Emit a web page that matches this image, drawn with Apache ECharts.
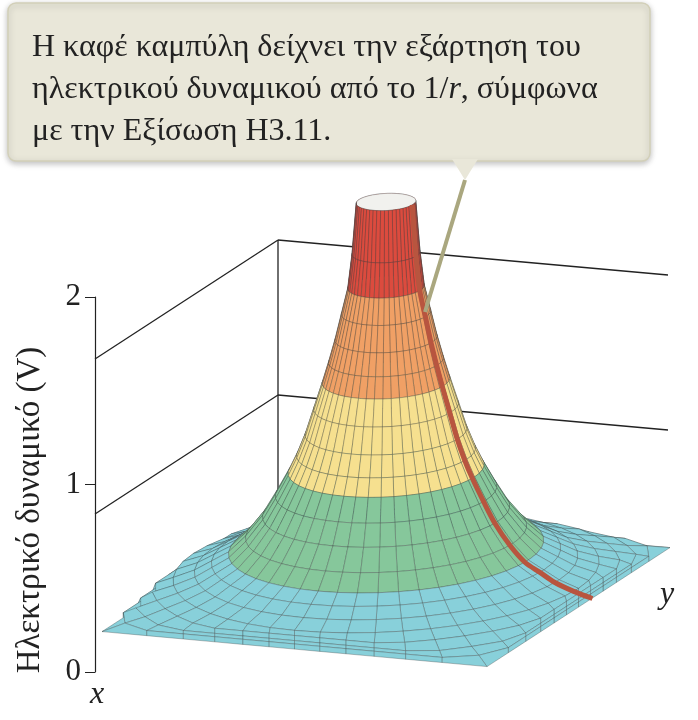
<!DOCTYPE html>
<html><head><meta charset="utf-8">
<script src="https://cdn.jsdelivr.net/npm/echarts@6/dist/echarts.min.js"></script>
<style>html,body{margin:0;padding:0;background:#fff}#c{width:698px;height:720px}</style>
</head><body><div id="c"></div>
<script>
// radial profile (distance from charge, potential in V)
const radii = [0.07, 0.08, 0.09, 0.105, 0.12, 0.135, 0.15, 0.17, 0.19, 0.21, 0.23, 0.26, 0.29, 0.33, 0.37, 0.41, 0.45, 0.5, 0.55, 0.6, 0.65, 0.72];
const potentials = [2.5, 2.2, 2.0, 1.85, 1.7, 1.57, 1.45, 1.3, 1.15, 1.03, 0.93, 0.8, 0.68, 0.56, 0.47, 0.42, 0.37, 0.33, 0.3, 0.27, 0.25, 0.22];
const yTicks = [0, 1, 2];
const bandLimits = [1.95, 1.45, 0.93, 0.45];
const bandColors = ['#dc4b3e', '#f0a065', '#f6e08f', '#86c79b', '#88d0da'];
const curveDir = [0.05, 1];

const chart = echarts.init(document.getElementById('c'));
const B = [285, 550], X = [-183, 119], Y = [385, 35], S = 170;
function proj(a, b, z, s) {
  const u = a + 0.5, v = b + 0.5;
  return [B[0] + u * X[0] + v * Y[0], B[1] + u * X[1] + v * Y[1] - z * (s || S)];
}
function bandColor(v) { for (let i = 0; i < bandLimits.length; i++) if (v >= bandLimits[i]) return bandColors[i]; return bandColors[4]; }
const NA = 48;
function ringPt(r, j) {
  const t = j / NA * Math.PI * 2, c = Math.cos(t), s = Math.sin(t);
  const rr = Math.min(r, 0.5 / Math.max(Math.abs(c), Math.abs(s)));
  return [rr * c, rr * s];
}
const cells = [];
for (let i = 0; i < radii.length - 1; i++) {
  for (let j = 0; j < NA; j++) {
    const p = [ringPt(radii[i], j), ringPt(radii[i], j + 1), ringPt(radii[i + 1], j + 1), ringPt(radii[i + 1], j)];
    const z = [potentials[i], potentials[i], potentials[i + 1], potentials[i + 1]];
    const ca = (p[0][0] + p[2][0]) / 2, cb = (p[0][1] + p[2][1]) / 2;
    cells.push({ pts: p.map((q, k) => proj(q[0], q[1], z[k])), depth: proj(ca, cb, 0)[1], color: bandColor((z[0] + z[2]) / 2) });
  }
}
const capPts = []; for (let j = 0; j < NA; j++) { const q = ringPt(radii[0], j); capPts.push(proj(q[0], q[1], potentials[0])); }
cells.push({ pts: capPts, depth: proj(0, 0, 0)[1] - 0.1, color: '#f1f1ee', cap: true });
cells.sort((p, q) => p.depth - q.depth);
const dl = Math.hypot(curveDir[0], curveDir[1]);
const curve = [];
for (let i = 0; i < radii.length; i++) if (radii[i] <= 0.55) curve.push(proj(curveDir[0] / dl * radii[i], curveDir[1] / dl * radii[i], potentials[i]));

const boxLines = [];
[1, 2].forEach(z => {
  const o = [278, 550 - z * 155];
  boxLines.push([o, [o[0] + X[0], o[1] + X[1]]]);
  boxLines.push([o, [o[0] + 390, o[1] + 35]]);
});
boxLines.push([[278, 550], [278, 240]]);

const serif = '"Liberation Serif","DejaVu Serif",serif';
chart.setOption({
  animation: false,
  grid: [{ left: 95, top: 297, bottom: 48, width: 1 }, { left: 0, top: 0, right: 0, bottom: 0 }],
  xAxis: [{ gridIndex: 0, show: false, min: 0, max: 1 }, { gridIndex: 1, show: false, min: 0, max: 698 }],
  yAxis: [{ gridIndex: 0, min: 0, max: 2, interval: 1, axisLine: { show: true, lineStyle: { color: '#222', width: 1.2 } },
      axisTick: { show: true, length: 10, lineStyle: { color: '#222' } }, splitLine: { show: false },
      axisLabel: { fontFamily: serif, fontSize: 31, color: '#222', margin: 14, formatter: v => yTicks.includes(v) ? String(v) : '' } },
    { gridIndex: 1, show: false, min: 0, max: 720, inverse: true }],
  series: [{
    type: 'custom', xAxisIndex: 1, yAxisIndex: 1, data: [0], z: 1,
    renderItem: (params, api) => {
      const ch = [];
      boxLines.forEach(l => ch.push({ type: 'polyline', shape: { points: l.map(p => api.coord(p)) }, style: { stroke: '#222', lineWidth: 1.3, fill: null } }));
      cells.forEach(c => ch.push({ type: 'polygon', shape: { points: c.pts.map(p => api.coord(p)) },
        style: { fill: c.color, stroke: c.cap ? '#999' : 'rgba(55,60,60,0.55)', lineWidth: 0.6 } }));
      ch.push({ type: 'polyline', shape: { points: curve.map(p => api.coord(p)), smooth: 0.3 }, style: { stroke: '#b8553f', lineWidth: 5, fill: null } });
      return { type: 'group', children: ch };
    }
  }],
  graphic: [
    { type: 'rect', shape: { x: 8, y: 3, width: 642, height: 158, r: 8 }, style: { fill: '#e9e7d9', stroke: '#d2cfb8', lineWidth: 1.5, shadowBlur: 6, shadowColor: 'rgba(0,0,0,0.25)', shadowOffsetY: 2 }, z: 10 },
    { type: 'polygon', shape: { points: [[452, 159], [478, 159], [465, 180]] }, style: { fill: '#e9e7d9' }, z: 11 },
    { type: 'line', shape: { x1: 465, y1: 180, x2: 425, y2: 312 }, style: { stroke: '#aaa77f', lineWidth: 4 }, z: 11 },
    { type: 'text', x: 32, y: 48, style: { text: 'Η καφέ καμπύλη δείχνει την εξάρτηση του', font: '32px ' + serif, fill: '#222', verticalAlign: 'middle' }, z: 12 },
    { type: 'text', x: 32, y: 90, style: { text: 'ηλεκτρικού δυναμικού από το 1/{i|r}, σύμφωνα', font: '32px ' + serif, fill: '#222', verticalAlign: 'middle', rich: { i: { fontStyle: 'italic', fontSize: 32, fontFamily: serif } } }, z: 12 },
    { type: 'text', x: 32, y: 132, style: { text: 'με την Εξίσωση Η3.11.', font: '32px ' + serif, fill: '#222', verticalAlign: 'middle' }, z: 12 },
    { type: 'text', x: 30, y: 510, rotation: Math.PI / 2, style: { text: 'Ηλεκτρικό δυναμικό (V)', font: '33px ' + serif, fill: '#222', align: 'center', verticalAlign: 'middle' }, z: 12 },
    { type: 'text', x: 90, y: 695, style: { text: 'x', font: 'italic 32px ' + serif, fill: '#222', verticalAlign: 'middle' }, z: 12 },
    { type: 'text', x: 660, y: 595, style: { text: 'y', font: 'italic 32px ' + serif, fill: '#222', verticalAlign: 'middle' }, z: 12 }
  ]
});
</script></body></html>
